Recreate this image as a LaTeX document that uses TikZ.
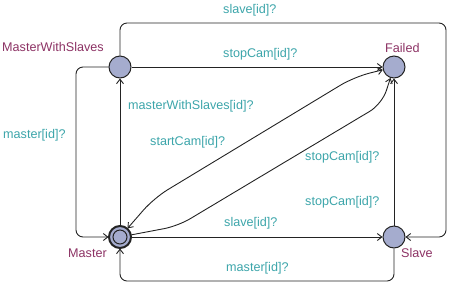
\documentclass[tikz,border=0pt]{standalone}
\usepackage{fontspec}
\setmainfont{Liberation Sans}
\usetikzlibrary{arrows.meta}
\definecolor{locfill}{RGB}{165,172,206}
\definecolor{synccol}{RGB}{60,165,170}
\definecolor{namecol}{RGB}{140,50,100}
\definecolor{linecol}{RGB}{35,35,35}
\tikzset{
  loc/.style={circle,draw=linecol,line width=1pt,fill=locfill,minimum size=22pt,inner sep=0pt},
  edge/.style={draw=linecol,line width=0.9pt,-{Straight Barb[length=4.5pt,width=7pt]}},
  sync/.style={text=synccol,font=\fontsize{12.6}{14}\selectfont,inner sep=0pt,anchor=west},
  lname/.style={text=namecol,font=\fontsize{12.6}{14}\selectfont,inner sep=0pt,anchor=west}
}
\begin{document}
\begin{tikzpicture}[x=1pt,y=-1pt]
\useasboundingbox (0,0) rectangle (449,285);
% locations
\node[loc] (mws) at (120,67) {};
\node[loc] (failed) at (394,67) {};
\node[loc,double=locfill,double distance=0pt] (master) at (120,237) {};
\node[circle,draw=linecol,line width=1pt,minimum size=14pt,inner sep=0pt] (masterin) at (120,237) {};
\node[loc] (slave) at (394,237) {};
% names
\node[lname] (nmws) at (2,47) {MasterWithSlaves};
\node[lname] (nfailed) at (385,48) {Failed};
\node[lname] (nmaster) at (68,253) {Master};
\node[lname] (nslave) at (401,253) {Slave};
% helper coordinates
\coordinate (tr) at (446,23);
\coordinate (lc) at (76,237);
\coordinate (bot) at (257,281);
% edges
\draw[edge] (mws) -- (failed);
\draw[edge,rounded corners=7pt] (mws) |- (tr) |- (slave);
\draw[edge] (master) -- (mws);
\draw[edge,rounded corners=7pt] (mws) -| (lc) -- (master);
\draw[edge,{Straight Barb[length=4.5pt,width=7pt]}-{Straight Barb[length=4.5pt,width=7pt]},rounded corners=16pt] (failed) -- (354,77) -- (154,198) -- (master);
\draw[edge,rounded corners=14pt] (master) -- (178,226) -- (382,104) -- (failed);
\draw[edge] (master) -- (slave);
\draw[edge,rounded corners=7pt] (slave) |- (bot) -| (master);
\draw[edge] (slave) -- (failed);
% labels
\node[sync] (s1) at (223,10) {slave[id]?};
\node[sync] (s2) at (223,54) {stopCam[id]?};
\node[sync] (s3) at (128,106) {masterWithSlaves[id]?};
\node[sync] (s4) at (3,135) {master[id]?};
\node[sync] (s5) at (150,142) {startCam[id]?};
\node[sync] (s6) at (305,157) {stopCam[id]?};
\node[sync] (s7) at (305,202) {stopCam[id]?};
\node[sync] (s8) at (224,223) {slave[id]?};
\node[sync] (s9) at (226,268) {master[id]?};
\end{tikzpicture}
\end{document}
